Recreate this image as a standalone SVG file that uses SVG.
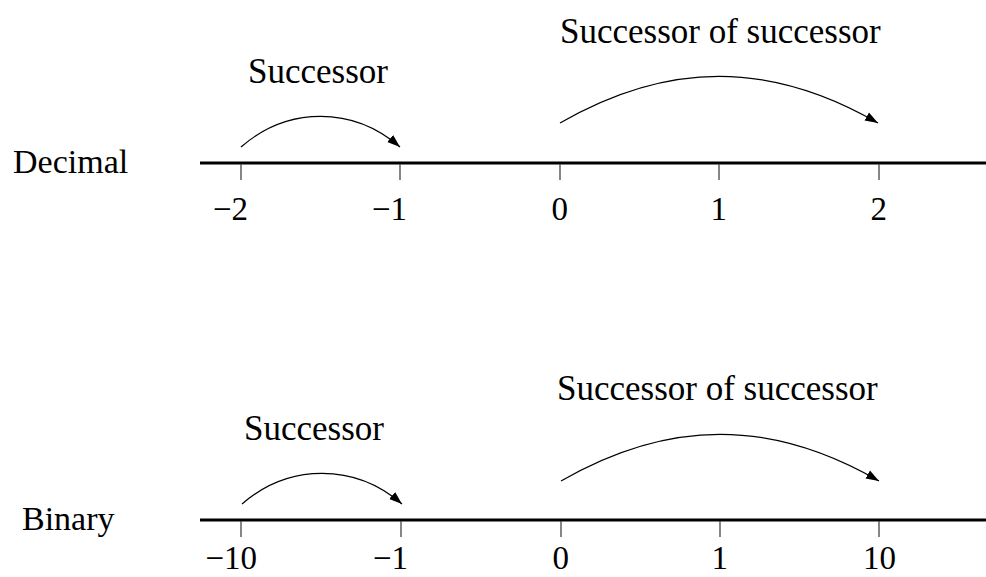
<svg xmlns="http://www.w3.org/2000/svg" width="986" height="577" viewBox="0 0 986 577">
<style>
  text { font-family: "Liberation Serif", "Times New Roman", serif; fill: #000; }
  .lbl { font-size: 34px; }
  .cap { font-size: 35px; }
  .num { font-size: 33px; text-anchor: end; }
  .axis { stroke: #000; stroke-width: 3; fill: none; }
  .tick { stroke: #444; stroke-width: 1.3; }
  .arc { stroke: #000; stroke-width: 1.2; fill: none; marker-end: url(#ah); }
</style>
<defs>
  <marker id="ah" markerUnits="userSpaceOnUse" markerWidth="14" markerHeight="12" viewBox="0 0 14 12" refX="13" refY="6" orient="auto">
    <path d="M0,1.5 L13,6 L0,10.5 Z" fill="#000"/>
  </marker>
</defs>
<rect width="986" height="577" fill="#fff"/>

<g id="decimal-row">
  <text id="decimal-label" class="lbl" x="13" y="173">Decimal</text>
  <line class="axis" x1="200" y1="163" x2="986" y2="163"/>
  <g id="decimal-ticks">
    <line class="tick" x1="241" y1="164" x2="241" y2="180"/>
    <line class="tick" x1="400" y1="164" x2="400" y2="180"/>
    <line class="tick" x1="560" y1="164" x2="560" y2="180"/>
    <line class="tick" x1="719" y1="164" x2="719" y2="180"/>
    <line class="tick" x1="879" y1="164" x2="879" y2="180"/>
  </g>
  <g id="decimal-numbers">
    <text class="num" x="248" y="220">−2</text>
    <text class="num" x="407" y="220">−1</text>
    <text class="num" x="568" y="220">0</text>
    <text class="num" x="727" y="220">1</text>
    <text class="num" x="887" y="220">2</text>
  </g>
  <text id="decimal-succ-label" class="cap" x="248" y="83">Successor</text>
  <text id="decimal-succsucc-label" class="cap" x="560" y="43">Successor of successor</text>
</g>

<g id="binary-row">
  <text id="binary-label" class="lbl" x="22" y="530">Binary</text>
  <line class="axis" x1="200" y1="520" x2="986" y2="520"/>
  <g id="binary-ticks">
    <line class="tick" x1="241" y1="521" x2="241" y2="537"/>
    <line class="tick" x1="401" y1="521" x2="401" y2="537"/>
    <line class="tick" x1="561" y1="521" x2="561" y2="537"/>
    <line class="tick" x1="720" y1="521" x2="720" y2="537"/>
    <line class="tick" x1="879" y1="521" x2="879" y2="537"/>
  </g>
  <g id="binary-numbers">
    <text class="num" x="257" y="569">−10</text>
    <text class="num" x="408" y="569">−1</text>
    <text class="num" x="569" y="569">0</text>
    <text class="num" x="728" y="569">1</text>
    <text class="num" x="896" y="569">10</text>
  </g>
  <text id="binary-succ-label" class="cap" x="244" y="440">Successor</text>
  <text id="binary-succsucc-label" class="cap" x="557" y="400">Successor of successor</text>
</g>

<g id="connectors">
  <path class="arc" d="M241,147 C288,106.2 353,106.2 400,147"/>
  <path class="arc" d="M560,123 C667.8,60.75 770.2,60.75 878,123"/>
  <path class="arc" d="M242,504 C289,463.2 355,463.2 402,504"/>
  <path class="arc" d="M561,481 C668.8,418.75 771.2,418.75 879,481"/>
</g>
</svg>
